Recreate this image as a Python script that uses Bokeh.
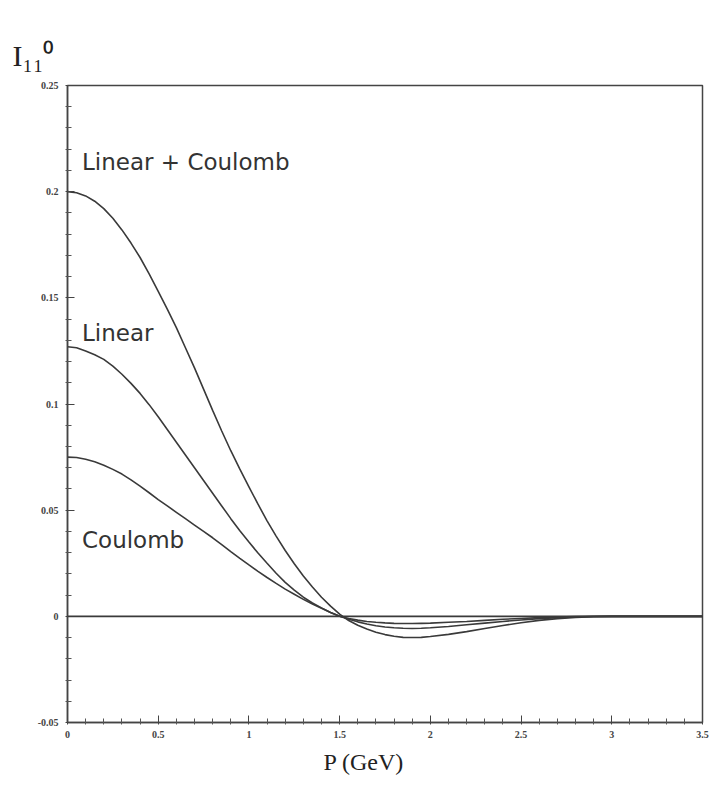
from bokeh.plotting import figure
from bokeh.models import FixedTicker, Label, Span, ColumnDataSource, Title
from bokeh.embed import file_html
from bokeh.resources import INLINE

# Momentum P (GeV)
p_vals = [0.0, 0.05, 0.1, 0.15, 0.2, 0.25, 0.3, 0.35, 0.4, 0.45,
          0.5, 0.55, 0.6, 0.65, 0.7, 0.75, 0.8, 0.85, 0.9, 0.95,
          1.0, 1.05, 1.1, 1.15, 1.2, 1.25, 1.3, 1.35, 1.4, 1.45,
          1.5, 1.55, 1.6, 1.65, 1.7, 1.75, 1.8, 1.85, 1.9, 1.95,
          2.0, 2.1, 2.2, 2.3, 2.4, 2.5, 2.6, 2.7, 2.8, 2.9,
          3.0, 3.1, 3.2, 3.3, 3.4, 3.5]

linear_coulomb = [0.2000, 0.1995, 0.1980, 0.1955, 0.1920, 0.1875, 0.1820, 0.1758, 0.1690, 0.1613,
                  0.1530, 0.1447, 0.1360, 0.1265, 0.1170, 0.1070, 0.0970, 0.0873, 0.0780, 0.0693,
                  0.0610, 0.0528, 0.0450, 0.0378, 0.0310, 0.0248, 0.0190, 0.0138, 0.0090, 0.0048,
                  0.0010, -0.0020, -0.0042, -0.0060, -0.0075, -0.0086, -0.0094, -0.0099, -0.0100, -0.0099,
                  -0.0095, -0.0085, -0.0072, -0.0057, -0.0043, -0.0030, -0.0019, -0.0011, -0.0005, -0.0002,
                  0.0, 0.0, 0.0, 0.0, 0.0, 0.0]

linear = [0.1270, 0.1265, 0.1250, 0.1232, 0.1210, 0.1178, 0.1140, 0.1097, 0.1050, 0.0997,
          0.0940, 0.0880, 0.0820, 0.0760, 0.0700, 0.0640, 0.0580, 0.0520, 0.0460, 0.0403,
          0.0350, 0.0298, 0.0250, 0.0203, 0.0160, 0.0123, 0.0090, 0.0063, 0.0040, 0.0018,
          0.0000, -0.0014, -0.0026, -0.0036, -0.0044, -0.0050, -0.0054, -0.0056, -0.0057, -0.0056,
          -0.0054, -0.0048, -0.0040, -0.0032, -0.0024, -0.0017, -0.0011, -0.0006, -0.0003, -0.0001,
          0.0, 0.0, 0.0, 0.0, 0.0, 0.0]

coulomb = [0.0750, 0.0748, 0.0740, 0.0728, 0.0712, 0.0692, 0.0670, 0.0643, 0.0613, 0.0582,
           0.0550, 0.0520, 0.0490, 0.0460, 0.0430, 0.0400, 0.0370, 0.0338, 0.0305, 0.0273,
           0.0242, 0.0212, 0.0183, 0.0155, 0.0128, 0.0104, 0.0080, 0.0058, 0.0038, 0.0018,
           0.0000, -0.0010, -0.0018, -0.0024, -0.0028, -0.0031, -0.0033, -0.0034, -0.0034, -0.0033,
           -0.0032, -0.0028, -0.0024, -0.0019, -0.0014, -0.0010, -0.0006, -0.0003, -0.0001, 0.0,
           0.0, 0.0, 0.0, 0.0, 0.0, 0.0]

x_ticks = [0, 0.5, 1, 1.5, 2, 2.5, 3, 3.5]
x_tick_labels = ["0", "0.5", "1", "1.5", "2", "2.5", "3", "3.5"]
y_ticks = [-0.05, 0, 0.05, 0.1, 0.15, 0.2, 0.25]
y_tick_labels = ["-0.05", "0", "0.05", "0.1", "0.15", "0.2", "0.25"]

curve_labels = ["Linear + Coulomb", "Linear", "Coulomb"]
curve_label_x = [0.08, 0.08, 0.08]
curve_label_y = [0.214, 0.1334, 0.036]

p = figure(width=710, height=795, x_range=(0, 3.5), y_range=(-0.05, 0.25),
           output_backend="svg", toolbar_location=None,
           min_border_left=67, min_border_right=8, min_border_top=85, min_border_bottom=73)
p.background_fill_color = "white"
p.border_fill_color = "white"
p.xgrid.visible = False
p.ygrid.visible = False
p.outline_line_color = "#444444"
p.outline_line_width = 1.5

src = ColumnDataSource(dict(p=p_vals, lc=linear_coulomb, l=linear, c=coulomb))
for col in ["lc", "l", "c"]:
    p.line("p", col, source=src, line_color="#3a3a3a", line_width=1.6)

p.add_layout(Span(location=0, dimension="width", line_color="#3a3a3a", line_width=1.6))

xminor = [round(i * 0.1, 2) for i in range(36) if (i % 5) != 0]
yminor = [round(-0.05 + i * 0.01, 3) for i in range(31) if (i % 5) != 0]
p.xaxis.ticker = FixedTicker(ticks=x_ticks, minor_ticks=xminor)
p.yaxis.ticker = FixedTicker(ticks=y_ticks, minor_ticks=yminor)
p.xaxis.major_label_overrides = {t: s for t, s in zip(x_ticks, x_tick_labels)}
p.yaxis.major_label_overrides = {t: s for t, s in zip(y_ticks, y_tick_labels)}

for ax in [p.xaxis, p.yaxis]:
    ax.axis_line_color = "#444444"
    ax.axis_line_width = 1.5
    ax.major_tick_line_color = "#444444"
    ax.minor_tick_line_color = "#555555"
    ax.major_tick_in = 7
    ax.major_tick_out = 2
    ax.minor_tick_in = 4
    ax.minor_tick_out = 2
    ax.major_label_text_font = "Liberation Serif"
    ax.major_label_text_font_size = "10px"
    ax.major_label_text_font_style = "bold"
    ax.major_label_text_color = "#444444"
p.xaxis.major_label_standoff = 6
p.yaxis.major_label_standoff = 7

for txt, lx, ly in zip(curve_labels, curve_label_x, curve_label_y):
    p.add_layout(Label(x=lx, y=ly, text=txt, text_font="DejaVu Sans",
                       text_font_size="23px", text_color="#333333",
                       text_baseline="middle", text_align="left"))

# axis titles
p.add_layout(Title(text="P (GeV)", align="left", offset=256, standoff=12,
                   text_font="Liberation Serif", text_font_size="24px",
                   text_font_style="normal", text_color="#222222"), "below")
p.add_layout(Title(text="I\u2081\u2081\u2070", align="left", offset=-55, standoff=28,
                   text_font="Liberation Serif", text_font_size="30px",
                   text_font_style="normal", text_color="#222222"), "above")

open("out.html", "w").write(file_html(p, INLINE))
